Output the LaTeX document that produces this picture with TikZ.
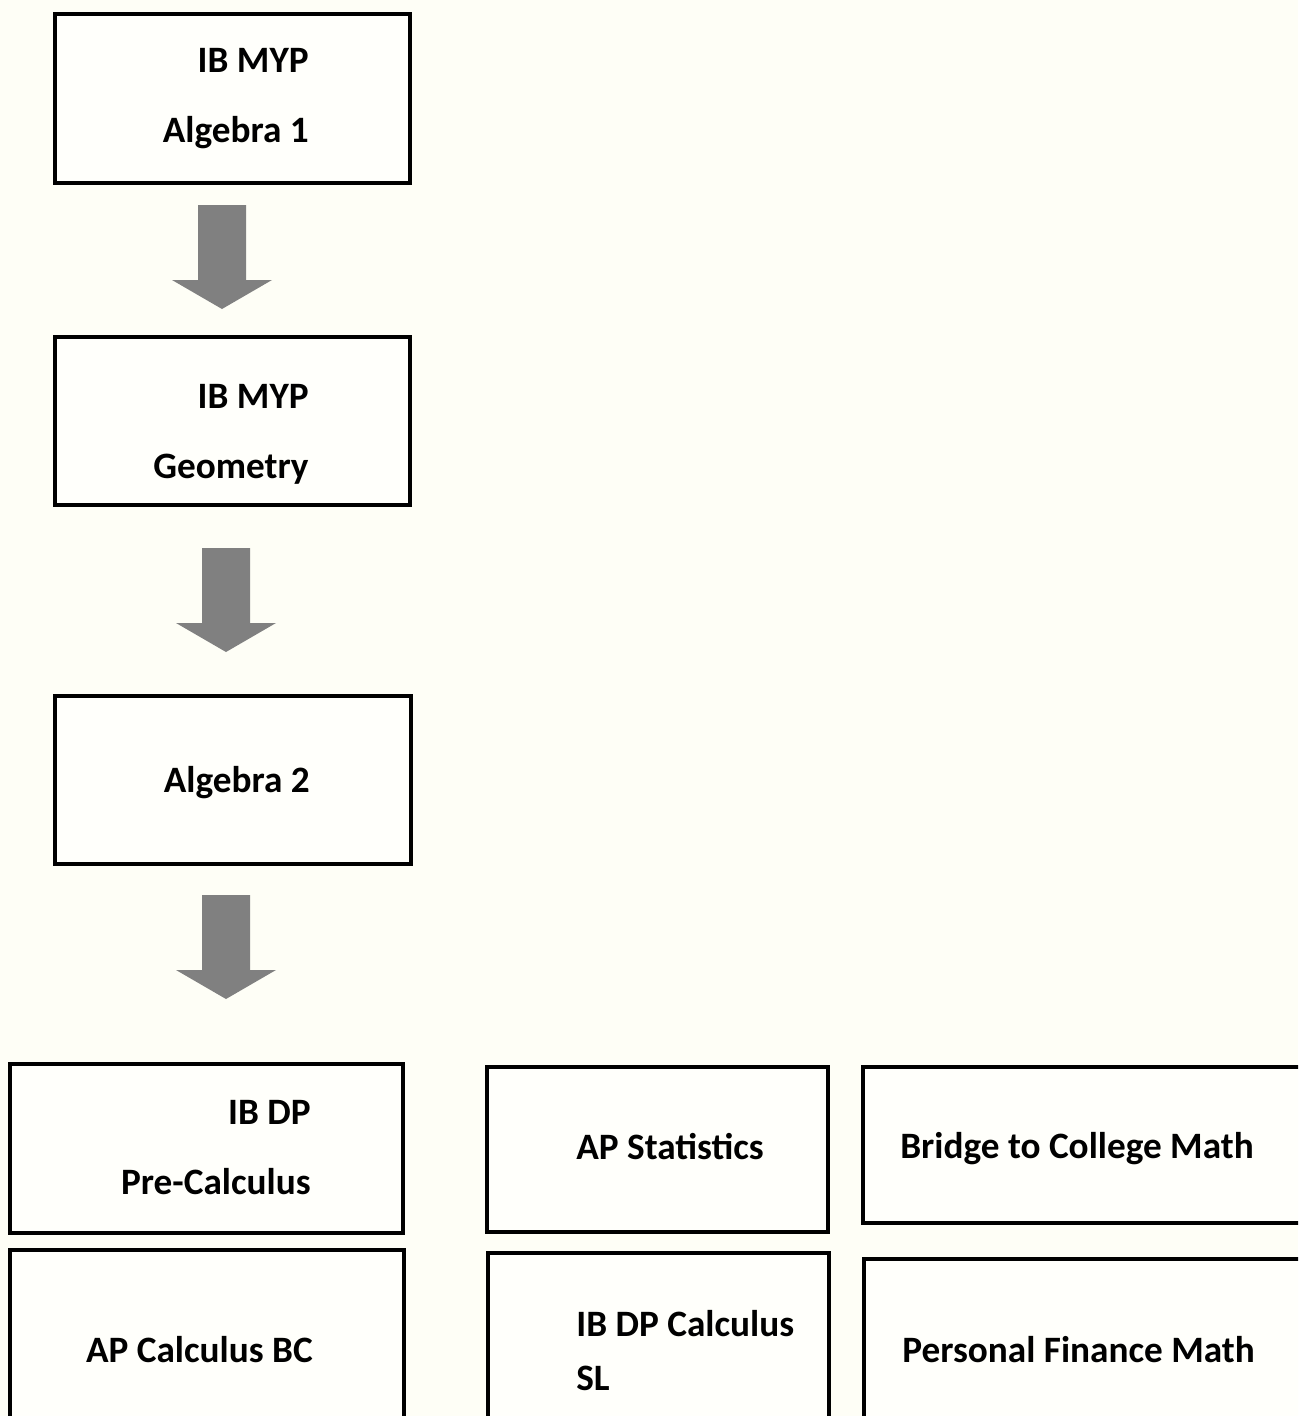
\documentclass[tikz,border=0pt]{standalone}
\usepackage{fontspec}
\setmainfont{Carlito}
\usetikzlibrary{calc}

\definecolor{paper}{RGB}{254,254,246}
\definecolor{arrowgray}{RGB}{128,128,128}

\tikzset{
    course/.style={draw=black,line width=2.3pt,rectangle,inner sep=0,fill=white!60!paper},
    coursetext/.style={font=\bfseries\fontsize{21.2}{40}\selectfont,inner sep=0},
    downarrow/.style={fill=arrowgray,draw=none}
}

\begin{document}
\begin{tikzpicture}[x=0.02cm,y=-0.02cm]
    \fill[paper] (0,0) rectangle (1298,1416);
    \useasboundingbox (0,0) rectangle (1298,1416);
    \clip (0,0) rectangle (1298,1416);
    % middle years courses
    \node[course,minimum width=355*0.02cm,minimum height=169*0.02cm](alg1) at (232.5,98.5){};
    \node[course,minimum width=355*0.02cm,minimum height=168*0.02cm](geo) at (232.5,421){};
    \node[course,minimum width=356*0.02cm,minimum height=168*0.02cm](alg2) at (233,780){};
    \node[coursetext,anchor=east,align=right](alg1text) at ($(alg1.east)+(-103,0)$){IB MYP\\Algebra 1};
    \node[coursetext,anchor=east,align=right](geotext) at ($(geo.east)+(-103,13)$){IB MYP\\Geometry};
    \node[coursetext,anchor=east](alg2text) at ($(alg2.east)+(-103,3)$){Algebra 2};
    % arrows
    \coordinate (arr1) at (222,205);
    \coordinate (arr2) at (226,548);
    \coordinate (arr3) at (226,895);
    \foreach \a in {arr1,arr2,arr3}{
        \fill[downarrow] ($(\a)+(-24,0)$) -- ++(48,0) -- ++(0,75) -- ++(26,0) -- ++(-50,29)
            -- ++(-50,-29) -- ++(26,0) -- cycle;
    }
    % diploma courses
    \node[course,minimum width=393*0.02cm,minimum height=169*0.02cm](precalc) at (206.5,1148.5){};
    \node[course,minimum width=394*0.02cm,minimum height=168*0.02cm](calcbc) at (207,1334){};
    \node[course,minimum width=341*0.02cm,minimum height=165*0.02cm](stats) at (657.5,1149.5){};
    \node[course,minimum width=341*0.02cm,minimum height=165*0.02cm](calcsl) at (658.5,1335.5){};
    \node[course,minimum width=440*0.02cm,minimum height=156*0.02cm](bridge) at (1083,1145){};
    \node[course,minimum width=440*0.02cm,minimum height=159*0.02cm](finance) at (1084,1338.5){};
    \node[coursetext,anchor=east,align=right](precalctext) at ($(precalc.east)+(-94,-1)$){IB DP\\Pre-Calculus};
    \node[coursetext,anchor=east](calcbctext) at ($(calcbc.east)+(-93,16)$){AP Calculus BC};
    \node[coursetext,anchor=west](statstext) at ($(stats.west)+(91,-3)$){AP Statistics};
    \node[coursetext,anchor=west,align=left,font=\bfseries\fontsize{21.2}{31}\selectfont](calcsltext) at ($(calcsl.west)+(90,15)$){IB DP Calculus\\SL};
    \node[coursetext,anchor=west](bridgetext) at ($(bridge.west)+(39,4)$){Bridge to College Math};
    \node[coursetext,anchor=west](financetext) at ($(finance.west)+(40,11)$){Personal Finance Math};
\end{tikzpicture}
\end{document}
